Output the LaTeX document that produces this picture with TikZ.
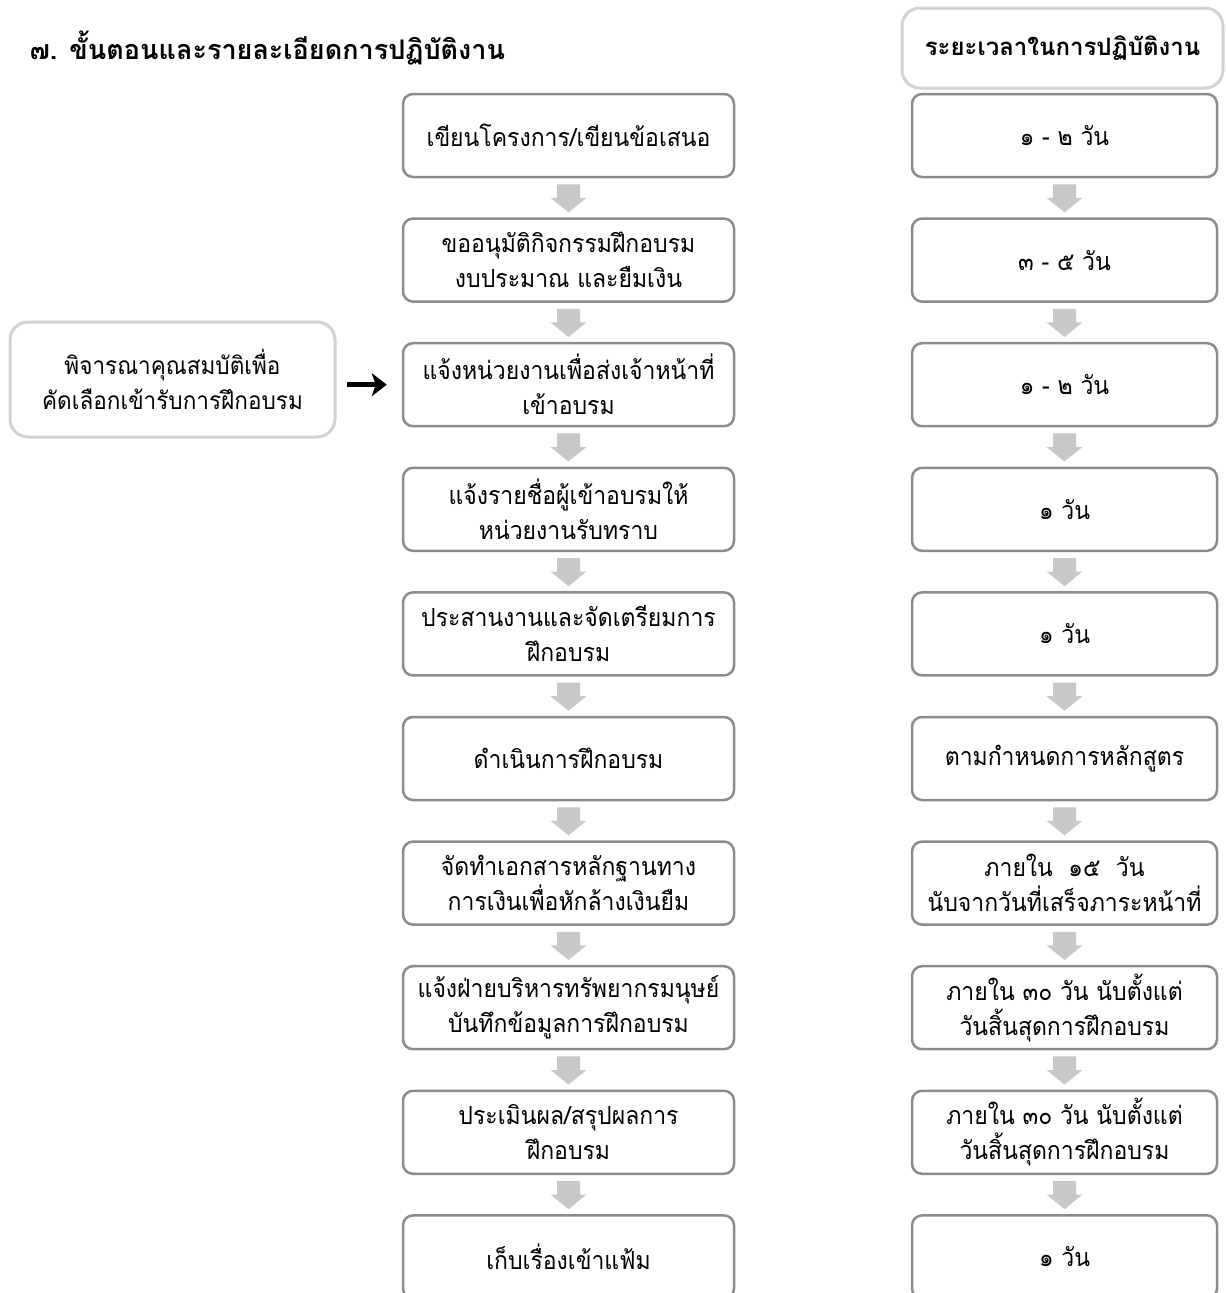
\documentclass[tikz,border=0pt]{standalone}
\usepackage{fontspec}
\setmainfont[Script=Thai,FakeStretch=0.92]{Loma}
\newfontfamily\headfont[Script=Thai]{Loma}
\usetikzlibrary{arrows.meta,calc}
\definecolor{boxline}{HTML}{8C8C8C}
\definecolor{softline}{HTML}{D2D2D2}
\definecolor{arrowgray}{HTML}{C8C8C8}
\tikzset{
  stepbox/.style={draw=boxline, line width=2.5pt, rounded corners=10pt, fill=white,
    align=center, inner sep=0pt, font=\fontsize{25}{35}\selectfont},
  leftbox/.style={stepbox, minimum width=331pt, minimum height=83pt},
  rightbox/.style={stepbox, minimum width=305pt, minimum height=83pt},
  softbox/.style={draw=softline, line width=3pt, rounded corners=18pt, fill=white,
    align=center, inner sep=0pt, font=\fontsize{24.5}{35}\selectfont},
}
\newcommand{\grayarrow}[2]{%
  \fill[arrowgray] let \p1=(#1.south), \p2=(#2.north), \p3=($(#1.south)!0.5!(#2.north)$) in
    (\x1-11.5pt,\y1-6pt) -- (\x1+11.5pt,\y1-6pt) -- (\x1+11.5pt,\y3) -- (\x1+18pt,\y3)
    -- (\x1,\y2+5pt) -- (\x1-18pt,\y3) -- (\x1-11.5pt,\y3) -- cycle;}
\begin{document}
\begin{tikzpicture}[x=1pt,y=-1pt]
\clip (0,0) rectangle (1226,1293);
\fill[white] (0,0) rectangle (1226,1293);
\node[anchor=west, font=\headfont\fontsize{27}{32}\selectfont\bfseries] (T) at (26,48) {๗. ขั้นตอนและรายละเอียดการปฏิบัติงาน};
\node[softbox, minimum width=321pt, minimum height=80pt, font=\headfont\fontsize{24}{35}\selectfont\bfseries] (H) at (1062.5,48) {ระยะเวลาในการปฏิบัติงาน};
\node[softbox, minimum width=325pt, minimum height=115pt] (S) at (172.5,379.5) {พิจารณาคุณสมบัติเพื่อ\\คัดเลือกเข้ารับการฝึกอบรม};
\foreach \i/\lt/\rt in {
 1/{เขียนโครงการ/เขียนข้อเสนอ}/{๑ - ๒ วัน},
 2/{ขออนุมัติกิจกรรมฝึกอบรม\\งบประมาณ และยืมเงิน}/{๓ - ๕ วัน},
 3/{แจ้งหน่วยงานเพื่อส่งเจ้าหน้าที่\\เข้าอบรม}/{๑ - ๒ วัน},
 4/{แจ้งรายชื่อผู้เข้าอบรมให้\\หน่วยงานรับทราบ}/{๑ วัน},
 5/{ประสานงานและจัดเตรียมการ\\ฝึกอบรม}/{๑ วัน},
 6/{ดำเนินการฝึกอบรม}/{ตามกำหนดการหลักสูตร},
 7/{จัดทำเอกสารหลักฐานทาง\\การเงินเพื่อหักล้างเงินยืม}/{ภายใน \ ๑๕ \ วัน\\นับจากวันที่เสร็จภาระหน้าที่},
 8/{แจ้งฝ่ายบริหารทรัพยากรมนุษย์\\บันทึกข้อมูลการฝึกอบรม}/{ภายใน ๓๐ วัน นับตั้งแต่\\วันสิ้นสุดการฝึกอบรม},
 9/{ประเมินผล/สรุปผลการ\\ฝึกอบรม}/{ภายใน ๓๐ วัน นับตั้งแต่\\วันสิ้นสุดการฝึกอบรม},
 10/{เก็บเรื่องเข้าแฟ้ม}/{๑ วัน}}{
  \node[leftbox] (L\i) at (568.5,{135.5+124.6*(\i-1)}) {\lt};
  \node[rightbox] (R\i) at (1064.5,{135.5+124.6*(\i-1)}) {\rt};
}
\foreach \i [evaluate=\i as \j using int(\i+1)] in {1,...,9}{
  \grayarrow{L\i}{L\j}
  \grayarrow{R\i}{R\j}
}
\draw[line width=4.5pt, -{Stealth[length=15pt,width=23pt,inset=4pt]}, shorten <=10pt, shorten >=15pt] (S.east |- L3.west) -- (L3.west);
\end{tikzpicture}
\end{document}
